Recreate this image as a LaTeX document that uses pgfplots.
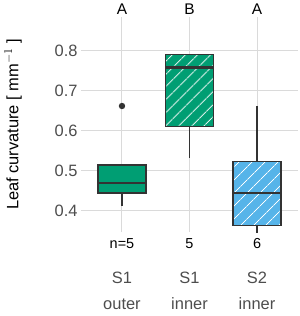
\documentclass[border=0pt]{standalone}
\usepackage{fontspec}
\setmainfont{Liberation Sans}
\usepackage{pgfplots}
\pgfplotsset{compat=1.18}
\usepgfplotslibrary{statistics}
\usetikzlibrary{patterns.meta}

\definecolor{okgreen}{HTML}{009E73}
\definecolor{okblue}{HTML}{56B4E9}
\definecolor{edge}{HTML}{333333}
\definecolor{gridc}{HTML}{DADADA}
\definecolor{ticktext}{HTML}{4D4D4D}

\pgfplotsset{
  hatched/.style={
    boxplot/every box/.style={
      preaction={fill=#1},
      pattern={Lines[angle=45,distance=9.5bp,line width=0.9bp]},
      pattern color=white,
    },
  },
}

\begin{document}
\begin{tikzpicture}
\begin{axis}[
  at={(81bp,84bp)}, anchor=south west,
  scale only axis, width=217bp, height=215bp,
  xmin=0.393, xmax=3.607, ymin=0.3475, ymax=0.885,
  axis line style={draw=none},
  major tick length=0pt,
  grid=major, grid style={gridc, line width=1bp},
  xtick={1,2,3},
  xticklabels={S1\\outer, S1\\inner, S2\\inner},
  x tick label style={align=center, anchor=north, yshift=-36.5bp,
    font=\fontsize{16.5}{26}\selectfont, text=ticktext},
  ytick={0.4,0.5,0.6,0.7,0.8},
  yticklabel style={font=\fontsize{16.5}{16}\selectfont, text=ticktext,
    /pgf/number format/.cd, fixed, fixed zerofill, precision=1},
  /pgf/number format/assume math mode=true,
  ylabel={Leaf curvature [ mm$^{-1}$ ]},
  every axis y label/.style={at={(axis description cs:-0.313,0.5)},
    rotate=90, anchor=center, font=\fontsize{16.5}{16}\selectfont},
  clip=false,
  boxplot/draw direction=y,
  boxplot/whisker extend=0,
  boxplot/every whisker/.style={line width=1.3bp},
  boxplot/every median/.style={line width=2.6bp},
]

% S1 outer
\addplot[boxplot prepared={draw position=1, box extend=0.71,
    lower whisker=0.4125, lower quartile=0.445, median=0.47,
    upper quartile=0.515, upper whisker=0.515},
  boxplot/every box/.style={fill=okgreen},
  draw=edge, line width=1.3bp,
  mark=*, mark size=2.5bp, mark options={fill=edge, draw=edge}]
  table[row sep=\\, y index=0]{0.6625\\};

% S1 inner
\addplot[boxplot prepared={draw position=2, box extend=0.71,
    lower whisker=0.532, lower quartile=0.611, median=0.758,
    upper quartile=0.792, upper whisker=0.792},
  hatched=okgreen, draw=edge, line width=1.3bp]
  coordinates {};

% S2 inner
\addplot[boxplot prepared={draw position=3, box extend=0.71,
    lower whisker=0.346, lower quartile=0.364, median=0.445,
    upper quartile=0.523, upper whisker=0.662},
  hatched=okblue, draw=edge, line width=1.3bp]
  coordinates {};

% group letters
\node[anchor=base, yshift=2bp, font=\fontsize{15.5}{15}\selectfont] at (axis cs:1,0.885) {A};
\node[anchor=base, yshift=2bp, font=\fontsize{15.5}{15}\selectfont] at (axis cs:2,0.885) {B};
\node[anchor=base, yshift=2bp, font=\fontsize{15.5}{15}\selectfont] at (axis cs:3,0.885) {A};

% sample sizes
\node[anchor=base, yshift=-16.7bp, font=\fontsize{14.5}{14}\selectfont] at (axis cs:1,0.3475) {n=5};
\node[anchor=base, yshift=-16.7bp, font=\fontsize{14.5}{14}\selectfont] at (axis cs:2,0.3475) {5};
\node[anchor=base, yshift=-16.7bp, font=\fontsize{14.5}{14}\selectfont] at (axis cs:3,0.3475) {6};
\end{axis}
\pgfresetboundingbox
\path[use as bounding box] (0,0) rectangle (300bp,316bp);
\end{tikzpicture}
\end{document}
